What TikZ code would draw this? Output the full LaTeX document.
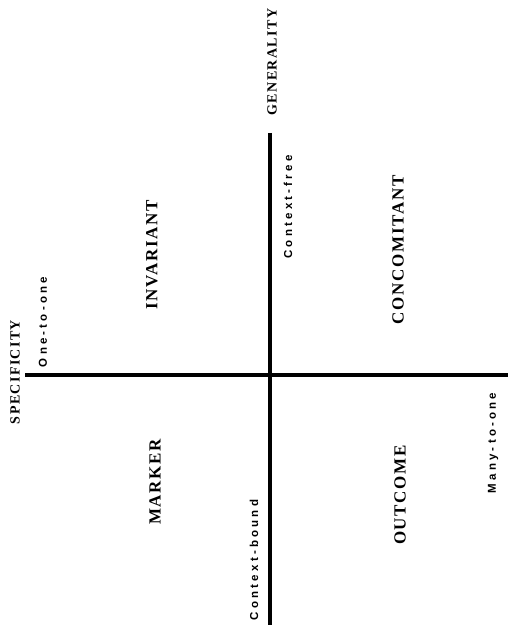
\documentclass[tikz,border=0pt]{standalone}
\usepackage{fontspec}
\setmainfont{Liberation Serif}
\newfontfamily\polefont{Liberation Sans}[LetterSpace=28]
\newfontfamily\axisfont{Liberation Serif}[LetterSpace=10]
\usepackage{tikz}
\usetikzlibrary{positioning}

\begin{document}
\begin{tikzpicture}[
    x=1pt, y=-1pt,
    axis/.style={line width=4pt},
    axislabel/.style={rotate=90, inner sep=0pt, font=\axisfont\bfseries\fontsize{14}{14}\selectfont},
    quadrant/.style={rotate=90, inner sep=0pt, font=\axisfont\bfseries\fontsize{17}{17}\selectfont},
    pole/.style={rotate=90, inner sep=0pt, font=\polefont\bfseries\fontsize{11.5}{11.5}\selectfont}
]
    \useasboundingbox (0,0) rectangle (508,631);

    % Axes
    \coordinate (gtop) at (270,133);
    \coordinate (gbot) at (270,625);
    \coordinate (sleft) at (25,375);
    \coordinate (sright) at (508,375);
    \draw[axis] (gtop) -- (gbot);
    \draw[axis] (sleft) -- (sright);

    % Axis names
    \node[axislabel] (gen) at (272,62) {GENERALITY};
    \node[axislabel] (spec) at (15,372) {SPECIFICITY};

    % Poles
    \node[pole] (cfree) at (288,207) {Context-free};
    \node[pole] (cbound) at (254,560) {Context-bound};
    \node[pole] (one) at (43,322) {One-to-one};
    \node[pole] (many) at (493,443) {Many-to-one};

    % Quadrants
    \node[quadrant] (inv) at (152,255) {INVARIANT};
    \node[quadrant] (conc) at (398,250) {CONCOMITANT};
    \node[quadrant] (mark) at (155,482) {MARKER};
    \node[quadrant] (out) at (400,495) {OUTCOME};
\end{tikzpicture}
\end{document}
